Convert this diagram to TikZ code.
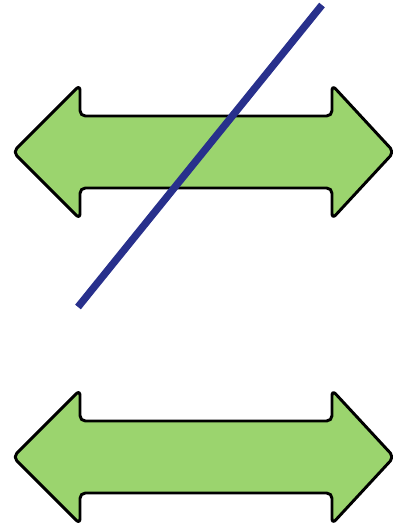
\documentclass[tikz,border=0pt]{standalone}
\usepackage{tikz}
\definecolor{arrowgreen}{RGB}{155,212,110}
\definecolor{strikeblue}{RGB}{40,48,140}

\begin{document}
\begin{tikzpicture}[x=0.75pt,y=-0.75pt,
    dblarrow/.style={draw=black,fill=arrowgreen,line width=2.2pt,rounded corners=4pt,line join=round},
    strike/.style={draw=strikeblue,line width=5.5pt}]
        \useasboundingbox (0,0) rectangle (392,527);
        \foreach \y in {152,457} {
          \filldraw[dblarrow] (13,\y) -- (80,\y-67) -- (80,\y-36) -- (332,\y-36) -- (332,\y-67)
            -- (394,\y) -- (332,\y+67) -- (332,\y+36) -- (80,\y+36) -- (80,\y+67) -- cycle;
        }
        \coordinate (lo) at (78,307);
        \coordinate (hi) at (322,5);
        \draw[strike] (lo) -- (hi);
      \end{tikzpicture}
\end{document}
